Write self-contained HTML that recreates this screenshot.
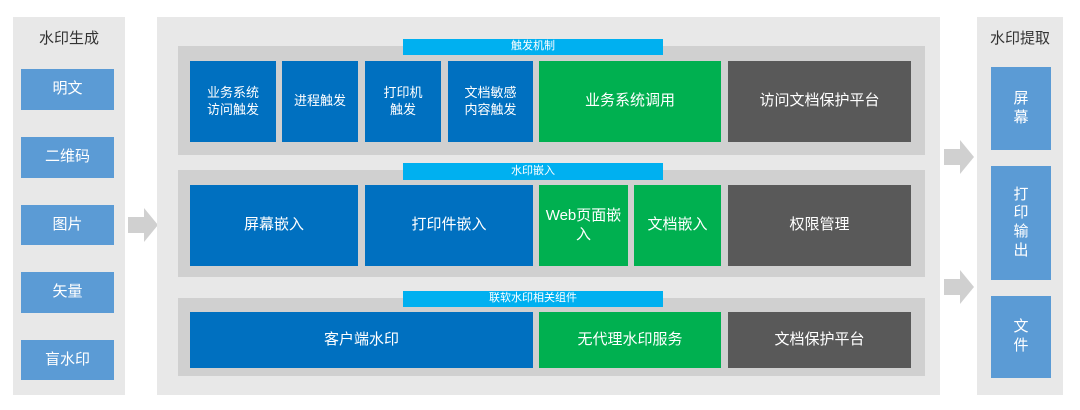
<!DOCTYPE html>
<html><head><meta charset="utf-8"><style>
body{margin:0;width:1080px;height:410px;background:#fff;position:relative;overflow:hidden;font-family:"Liberation Sans","Noto Sans CJK SC",sans-serif}
div{position:absolute;box-sizing:border-box}
.c{display:flex;align-items:center;justify-content:center;text-align:center;color:#fff;line-height:1.25}
.lb{background:#5b9bd5;font-size:15px}
.db{background:#0070c0;font-size:13px}
.g{background:#00b050;font-size:15px}
.k{background:#595959;font-size:15px}
.bar{background:#00b0f0;color:#fff;font-size:11px}
.row{background:#d0d0d0}
</style></head><body>
<div style="left:13px;top:17px;width:112px;height:378px;background:#e8e8e8"></div>
<div class="c" style="left:13px;top:26px;width:112px;height:26px;color:#333;font-size:15px">水印生成</div>
<div class="c lb" style="left:21px;top:69px;width:93px;height:41px">明文</div>
<div class="c lb" style="left:21px;top:137px;width:93px;height:41px">二维码</div>
<div class="c lb" style="left:21px;top:205px;width:93px;height:40px">图片</div>
<div class="c lb" style="left:21px;top:272px;width:93px;height:41px">矢量</div>
<div class="c lb" style="left:21px;top:340px;width:93px;height:40px">盲水印</div>
<svg style="position:absolute;left:128px;top:208px" width="32" height="34"><polygon points="0,9 16,9 16,0 30,17 16,34 16,25 0,25" fill="#d0d0d0"/></svg>
<div style="left:157px;top:17px;width:783px;height:378px;background:#e8e8e8"></div>
<div class="row" style="left:178px;top:46px;width:747px;height:109px"></div>
<div class="c bar" style="left:403px;top:39px;width:260px;height:16px">触发机制</div>
<div class="c db" style="left:190px;top:61px;width:86px;height:81px">业务系统<br>访问触发</div>
<div class="c db" style="left:282px;top:61px;width:76px;height:81px">进程触发</div>
<div class="c db" style="left:365px;top:61px;width:76px;height:81px">打印机<br>触发</div>
<div class="c db" style="left:448px;top:61px;width:85px;height:81px">文档敏感<br>内容触发</div>
<div class="c g" style="left:539px;top:61px;width:182px;height:81px">业务系统调用</div>
<div class="c k" style="left:728px;top:61px;width:183px;height:81px">访问文档保护平台</div>
<div class="row" style="left:178px;top:170px;width:747px;height:107px"></div>
<div class="c bar" style="left:403px;top:163px;width:260px;height:17px">水印嵌入</div>
<div class="c db" style="left:190px;top:185px;width:168px;height:81px;font-size:15px">屏幕嵌入</div>
<div class="c db" style="left:365px;top:185px;width:168px;height:81px;font-size:15px">打印件嵌入</div>
<div class="c g" style="left:539px;top:185px;width:89px;height:81px">Web页面嵌<br>入</div>
<div class="c g" style="left:634px;top:185px;width:87px;height:81px">文档嵌入</div>
<div class="c k" style="left:728px;top:185px;width:183px;height:81px">权限管理</div>
<div class="row" style="left:178px;top:298px;width:747px;height:78px"></div>
<div class="c bar" style="left:403px;top:291px;width:260px;height:16px">联软水印相关组件</div>
<div class="c db" style="left:190px;top:312px;width:343px;height:56px;font-size:15px">客户端水印</div>
<div class="c g" style="left:539px;top:312px;width:182px;height:56px">无代理水印服务</div>
<div class="c k" style="left:728px;top:312px;width:183px;height:56px">文档保护平台</div>
<svg style="position:absolute;left:944px;top:140px" width="32" height="34"><polygon points="0,9 16,9 16,0 30,17 16,34 16,25 0,25" fill="#d0d0d0"/></svg>
<svg style="position:absolute;left:944px;top:270px" width="32" height="34"><polygon points="0,9 16,9 16,0 30,17 16,34 16,25 0,25" fill="#d0d0d0"/></svg>
<div style="left:977px;top:17px;width:86px;height:378px;background:#e8e8e8"></div>
<div class="c" style="left:977px;top:26px;width:86px;height:26px;color:#333;font-size:15px">水印提取</div>
<div class="c lb" style="left:991px;top:67px;width:60px;height:83px">屏<br>幕</div>
<div class="c lb" style="left:991px;top:166px;width:60px;height:114px">打<br>印<br>输<br>出</div>
<div class="c lb" style="left:991px;top:296px;width:60px;height:82px">文<br>件</div>
</body></html>
